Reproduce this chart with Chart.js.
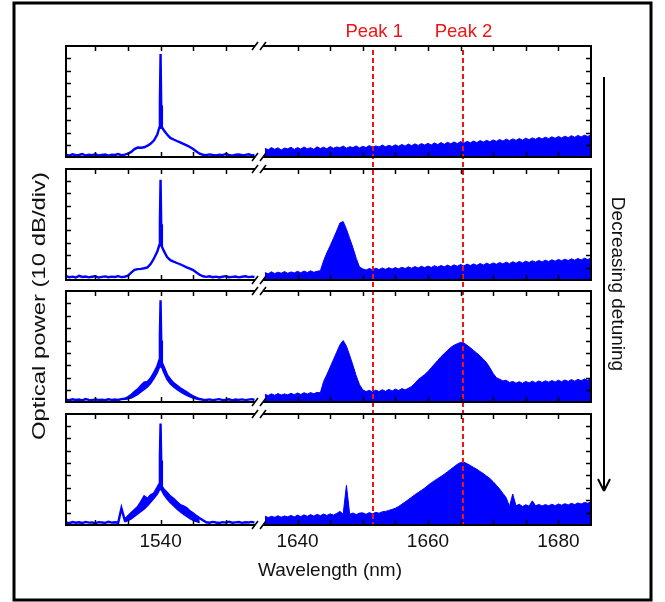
<!DOCTYPE html>
<html>
<head>
<meta charset="utf-8">
<script src="https://cdn.jsdelivr.net/npm/chart.js"></script>
<style>
  html, body { margin: 0; padding: 0; background: #fff; }
  canvas { display: block; }
</style>
</head>
<body>
<canvas id="spectraChart" width="665" height="602"></canvas>
<script>
// Wavelength grids (nm)
const leftWl = [1525.5, 1526, 1526.5, 1527, 1527.5, 1528, 1528.5, 1529, 1529.5, 1530,
    1530.5, 1531, 1531.5, 1532, 1532.5, 1533, 1533.5, 1534, 1534.5,
    1535, 1535.5, 1536, 1536.5, 1537, 1537.5, 1538, 1538.5, 1539, 1539.5,
    1539.8, 1539.9, 1540, 1540.1, 1540.2,
    1540.5, 1541, 1541.5, 1542, 1542.5, 1543, 1543.5, 1544, 1544.5, 1545, 1545.5, 1546, 1546.5,
    1547, 1547.5, 1548, 1548.5, 1549, 1549.5, 1550, 1550.5, 1551, 1551.5, 1552, 1552.5, 1553, 1553.5, 1554, 1554.4];

const bandWl = [1534.5, 1535, 1535.5, 1536, 1536.5, 1537, 1537.5, 1538, 1538.5, 1539, 1539.5,
    1539.8, 1540, 1540.2, 1540.5, 1541, 1541.5, 1542, 1542.5, 1543, 1543.5, 1544, 1544.5, 1545, 1545.5, 1546];

const rightWl = [1635, 1635.5, 1636, 1636.5, 1637, 1637.5, 1638, 1638.5, 1639, 1639.5,
    1640, 1640.5, 1641, 1641.5, 1642, 1642.5, 1643, 1643.5, 1644, 1644.5,
    1645, 1645.5, 1646, 1646.5, 1647, 1647.5, 1648, 1648.5, 1649, 1649.5,
    1650, 1650.5, 1651, 1651.5, 1652, 1652.5, 1653, 1653.5, 1654, 1654.5,
    1655, 1655.5, 1656, 1656.5, 1657, 1657.5, 1658, 1658.5, 1659, 1659.5,
    1660, 1660.5, 1661, 1661.5, 1662, 1662.5, 1663, 1663.5, 1664, 1664.5,
    1665, 1665.5, 1666, 1666.5, 1667, 1667.5, 1668, 1668.5, 1669, 1669.5,
    1670, 1670.5, 1671, 1671.5, 1672, 1672.5, 1673, 1673.5, 1674, 1674.5,
    1675, 1675.5, 1676, 1676.5, 1677, 1677.5, 1678, 1678.5, 1679, 1679.5,
    1680, 1680.5, 1681, 1681.5, 1682, 1682.5, 1683, 1683.5, 1684, 1684.5, 1685];

// Power in divisions (10 dB/div), pump side
const leftP1 = [0.22, 0.15, 0.25, 0.18, 0.2, 0.28, 0.16, 0.22, 0.19, 0.26, 0.17, 0.21, 0.24, 0.15, 0.22, 0.2, 0.27, 0.18, 0.23,
    0.3, 0.45, 0.68, 0.8, 0.78, 0.82, 0.95, 1.12, 1.38, 1.85,
    2.4, 4.5, 8.35, 4.2, 2.45,
    2.2, 1.85, 1.58, 1.45, 1.33, 1.22, 1.1, 0.98, 0.85, 0.68, 0.48, 0.3, 0.22,
    0.18, 0.25, 0.2, 0.16, 0.23, 0.19, 0.27, 0.2, 0.15, 0.22, 0.24, 0.18, 0.21, 0.26, 0.17, 0.2];
const leftP2 = [0.3, 0.22, 0.27, 0.2, 0.33, 0.24, 0.28, 0.21, 0.26, 0.3, 0.2, 0.25, 0.29, 0.22, 0.27, 0.24, 0.31, 0.23, 0.26,
    0.35, 0.6, 0.82, 0.88, 0.9, 0.95, 1.02, 1.3, 1.75, 2.3,
    2.8, 4.8, 8.1, 4.5, 2.7,
    2.35, 1.85, 1.6, 1.48, 1.37, 1.27, 1.15, 1.02, 0.92, 0.8, 0.6, 0.42, 0.3,
    0.25, 0.3, 0.22, 0.27, 0.2, 0.26, 0.31, 0.22, 0.25, 0.28, 0.21, 0.26, 0.3, 0.23, 0.27, 0.24];
const leftP3 = [0.22, 0.18, 0.26, 0.2, 0.24, 0.17, 0.28, 0.21, 0.19, 0.25, 0.2, 0.23, 0.18, 0.26, 0.21, 0.24, 0.2, 0.27, 0.3,
    0.42, 0.6, 0.85, 1.05, 1.35, 1.6, 1.65, 1.95, 2.4, 2.9,
    3.4, 5.5, 8.25, 5.0, 3.2,
    2.85, 2.2, 1.85, 1.55, 1.35, 1.15, 0.98, 0.82, 0.65, 0.5, 0.38, 0.28, 0.22,
    0.2, 0.25, 0.18, 0.23, 0.27, 0.19, 0.22, 0.26, 0.17, 0.24, 0.21, 0.25, 0.19, 0.23, 0.27, 0.2];
const leftP4 = [0.2, 0.15, 0.24, 0.18, 0.22, 0.16, 0.25, 0.19, 0.21, 0.14, 0.23, 0.2, 0.17, 0.26, 0.19, 0.22, 0.18,
    1.35, 0.4,
    0.7, 0.95, 1.2, 1.45, 1.85, 2.3, 2.1, 2.4, 2.55, 3.0,
    3.3, 5.5, 8.2, 5.2, 3.1,
    2.85, 2.6, 2.3, 2.1, 1.85, 1.6, 1.5, 1.35, 1.1, 0.94, 0.72, 0.55, 0.38,
    0.22, 0.18, 0.25, 0.2, 0.16, 0.23, 0.19, 0.26, 0.18, 0.21, 0.24, 0.17, 0.22, 0.2, 0.25, 0.19];

// Lower edge of the noisy pump band (panels 3 and 4)
const bandP3 = [0.25, 0.3, 0.35, 0.5, 0.65, 0.85, 1.05, 1.25, 1.55, 1.95, 2.4,
    2.8, 2.9, 2.8, 2.4, 1.85, 1.5, 1.25, 1.05, 0.88, 0.72, 0.58, 0.45, 0.35, 0.28, 0.22];
const bandP4 = [0.25, 0.35, 0.5, 0.7, 0.9, 1.1, 1.3, 1.55, 1.85, 2.15, 2.5,
    2.8, 2.9, 2.75, 2.45, 2.1, 1.8, 1.55, 1.3, 1.07, 0.88, 0.7, 0.52, 0.38, 0.28, 0.2];

// Power in divisions, long-wavelength side
const rightP1 = [0.74, 0.62, 0.8, 0.66, 0.78, 0.6, 0.76, 0.7, 0.82, 0.65,
    0.8, 0.68, 0.85, 0.7, 0.79, 0.66, 0.86, 0.72, 0.83, 0.7,
    0.88, 0.74, 0.85, 0.78, 0.92, 0.75, 0.87, 0.8, 0.93, 0.77,
    0.9, 0.8, 0.96, 0.82, 0.93, 0.85, 1.0, 0.86, 0.98, 0.88,
    1.02, 0.9, 1.05, 0.92, 1.08, 0.95, 1.1, 0.97, 1.12, 1.0,
    1.14, 1.01, 1.17, 1.04, 1.2, 1.06, 1.22, 1.1, 1.25, 1.12,
    1.28, 1.15, 1.3, 1.18, 1.33, 1.2, 1.36, 1.24, 1.38, 1.26,
    1.42, 1.3, 1.45, 1.32, 1.48, 1.36, 1.5, 1.38, 1.53, 1.4,
    1.56, 1.44, 1.58, 1.47, 1.62, 1.5, 1.64, 1.52, 1.67, 1.55,
    1.7, 1.58, 1.72, 1.6, 1.76, 1.63, 1.78, 1.66, 1.8, 1.7, 1.82];
const rightP2 = [0.6, 0.5, 0.66, 0.52, 0.63, 0.55, 0.68, 0.54, 0.65, 0.57,
    0.7, 0.58, 0.72, 0.6, 0.74, 0.62, 0.7, 0.75, 1.55, 2.2,
    2.75, 3.35, 3.95, 4.6, 4.72, 4.1, 3.35, 2.6, 1.75, 1.05,
    0.9, 0.8, 0.93, 0.82, 0.95, 0.84, 0.97, 0.86, 0.99, 0.88,
    1.0, 0.9, 1.03, 0.92, 1.06, 0.95, 1.08, 0.97, 1.1, 1.0,
    1.12, 1.01, 1.15, 1.04, 1.17, 1.06, 1.2, 1.08, 1.22, 1.11,
    1.25, 1.13, 1.28, 1.16, 1.3, 1.18, 1.33, 1.21, 1.36, 1.24,
    1.38, 1.27, 1.41, 1.3, 1.44, 1.32, 1.47, 1.35, 1.5, 1.38,
    1.52, 1.41, 1.55, 1.44, 1.58, 1.46, 1.6, 1.49, 1.63, 1.52,
    1.66, 1.55, 1.68, 1.57, 1.71, 1.6, 1.73, 1.62, 1.76, 1.65, 1.78];
const rightP3 = [0.66, 0.56, 0.7, 0.58, 0.72, 0.6, 0.69, 0.62, 0.74, 0.63,
    0.77, 0.65, 0.79, 0.68, 0.8, 0.7, 0.82, 0.78, 1.7, 2.25,
    2.85, 3.45, 4.05, 4.65, 5.0, 4.55, 3.8, 3.0, 2.15, 1.45,
    1.02, 0.88, 0.98, 0.85, 1.0, 0.88, 1.03, 0.9, 1.06, 0.93,
    1.08, 0.96, 1.12, 1.02, 1.15, 1.3, 1.55, 1.85, 2.05, 2.25,
    2.5, 2.8, 3.1, 3.4, 3.7, 3.95, 4.2, 4.45, 4.62, 4.75,
    4.85, 4.8, 4.62, 4.42, 4.2, 3.98, 3.75, 3.5, 3.2, 2.8,
    2.35, 2.0, 1.88, 1.74, 1.8, 1.62, 1.7, 1.56, 1.68, 1.55,
    1.7, 1.58, 1.72, 1.6, 1.74, 1.62, 1.75, 1.64, 1.77, 1.66,
    1.8, 1.68, 1.82, 1.7, 1.85, 1.72, 1.87, 1.76, 1.9, 1.8, 1.93];
const rightP4 = [0.72, 0.6, 0.7, 0.62, 0.75, 0.63, 0.73, 0.66, 0.77, 0.65,
    0.8, 0.68, 0.82, 0.7, 0.84, 0.72, 0.86, 0.75, 0.88, 0.77,
    0.9, 0.8, 0.93, 1.1, 0.88, 3.2, 0.86, 0.97, 0.84, 0.96,
    0.98, 0.86, 1.0, 0.9, 1.02, 0.95, 1.07, 1.1, 1.18, 1.26,
    1.35, 1.5, 1.68, 1.86, 2.05, 2.25, 2.45, 2.62, 2.8, 2.98,
    3.2, 3.4, 3.58, 3.75, 3.92, 4.1, 4.3, 4.5, 4.7, 4.9,
    5.05, 5.08, 4.95, 4.8, 4.65, 4.5, 4.32, 4.15, 3.95, 3.75,
    3.5, 3.2, 2.9, 2.55, 2.2, 1.5, 2.5, 1.55, 1.68, 1.5,
    1.64, 1.52, 1.95, 1.55, 1.66, 1.54, 1.65, 1.55, 1.68, 1.56,
    1.7, 1.6, 1.72, 1.62, 1.75, 1.65, 1.78, 1.7, 1.82, 1.76, 1.88];

// Axis ticks and markers
const yTicks = [1, 2, 3, 4, 5, 6, 7, 8];
const leftTicks = [1530, 1535, 1540, 1545, 1550];
const rightTicks = [1640, 1645, 1650, 1655, 1660, 1665, 1670, 1675, 1680];
const leftLabels = [1540];
const rightLabels = [1640, 1660, 1680];
const peakWl = [1651.6, 1665.3];
const peakNames = ['Peak 1', 'Peak 2'];

const BLUE = '#0000ff';
const RED = '#f01414';
const FONT = '"Liberation Sans", Arial, sans-serif';

function pts(xs, ys) {
    return xs.map((x, i) => ({ x: x, y: ys[i] }));
}

const panels = [
    { id: 'p1', left: leftP1, right: rightP1 },
    { id: 'p2', left: leftP2, right: rightP2 },
    { id: 'p3', left: leftP3, right: rightP3, band: bandP3 },
    { id: 'p4', left: leftP4, right: rightP4, band: bandP4 }
];

const datasets = [];
panels.forEach(p => {
    datasets.push({
        data: pts(leftWl, p.left), xAxisID: 'xl', yAxisID: p.id,
        borderColor: BLUE, borderWidth: 2.4, pointRadius: 0, fill: false
    });
    if (p.band) {
        datasets.push({
            data: pts(bandWl, p.band), xAxisID: 'xl', yAxisID: p.id,
            borderColor: BLUE, borderWidth: 1.5, backgroundColor: BLUE, pointRadius: 0, fill: '-1'
        });
    }
    datasets.push({
        data: pts(rightWl, p.right), xAxisID: 'xr', yAxisID: p.id,
        borderColor: BLUE, borderWidth: 1, backgroundColor: BLUE, pointRadius: 0, fill: 'origin'
    });
});

// stacked panels with thin spacer axes between them
const panelAxis = { type: 'linear', position: 'right', stack: 'panels', stackWeight: 111, min: 0, max: 9, display: false };
const gapAxis = { type: 'linear', position: 'right', stack: 'panels', stackWeight: 11, display: false };

function line(ctx, x1, y1, x2, y2) {
    ctx.beginPath();
    ctx.moveTo(x1, y1);
    ctx.lineTo(x2, y2);
    ctx.stroke();
}

const decor = {
    id: 'decor',
    afterDatasetsDraw(chart) {
        const ctx = chart.ctx;
        const area = chart.chartArea;
        const xl = chart.scales.xl, xr = chart.scales.xr;
        const bL = Math.round(xl.getPixelForValue(1554.8)) - 2;
        const bR = Math.round(xr.getPixelForValue(1634.7));
        ctx.save();

        // peak markers
        ctx.strokeStyle = RED;
        ctx.lineWidth = 2;
        ctx.setLineDash([5, 3]);
        peakWl.forEach(w => {
            const x = Math.round(xr.getPixelForValue(w));
            line(ctx, x, chart.scales.p1.top + 4, x, chart.scales.p4.bottom);
        });
        ctx.setLineDash([]);

        // panel frames with broken axis
        ctx.strokeStyle = '#000';
        ctx.lineWidth = 2;
        panels.forEach(p => {
            const s = chart.scales[p.id];
            const top = Math.round(s.top), bot = Math.round(s.bottom);
            [top, bot].forEach(y => {
                line(ctx, area.left, y, bL, y);
                line(ctx, bR, y, area.right, y);
                ctx.lineWidth = 1.5;
                line(ctx, bL - 3, y + 4, bL + 3, y - 4);
                line(ctx, bR - 3, y + 4, bR + 3, y - 4);
                ctx.lineWidth = 2;
            });
            line(ctx, area.left, top - 1, area.left, bot + 1);
            line(ctx, area.right, top - 1, area.right, bot + 1);

            ctx.lineWidth = 1.5;
            yTicks.forEach(v => {
                const y = Math.round(s.getPixelForValue(v)) + 0.5;
                line(ctx, area.left, y, area.left + 5, y);
                line(ctx, area.right - 5, y, area.right, y);
            });
            leftTicks.forEach(w => {
                const x = Math.round(xl.getPixelForValue(w)) + 0.5;
                line(ctx, x, top, x, top + 5);
                line(ctx, x, bot - 5, x, bot);
            });
            rightTicks.forEach(w => {
                const x = Math.round(xr.getPixelForValue(w)) + 0.5;
                line(ctx, x, top, x, top + 5);
                line(ctx, x, bot - 5, x, bot);
            });
            ctx.lineWidth = 2;
        });

        // tick labels and titles
        const bottom = chart.scales.p4.bottom;
        ctx.fillStyle = '#111';
        ctx.font = '19px ' + FONT;
        ctx.textAlign = 'center';
        ctx.textBaseline = 'alphabetic';
        leftLabels.forEach(w => ctx.fillText(String(w), xl.getPixelForValue(w), bottom + 22));
        rightLabels.forEach(w => ctx.fillText(String(w), xr.getPixelForValue(w), bottom + 22));
        ctx.fillText('Wavelength (nm)', 330, bottom + 51);

        ctx.fillStyle = RED;
        ctx.font = '18.5px ' + FONT;
        peakWl.forEach((w, i) => ctx.fillText(peakNames[i], xr.getPixelForValue(w) + 1, 37));

        // y title (stretched along its length as in the original)
        ctx.fillStyle = '#111';
        ctx.font = '19px ' + FONT;
        ctx.save();
        ctx.translate(40, 306);
        ctx.rotate(-Math.PI / 2);
        ctx.textBaseline = 'middle';
        const tw = ctx.measureText('Optical power (10 dB/div)').width;
        ctx.scale(268 / tw, 1);
        ctx.fillText('Optical power (10 dB/div)', 0, 0);
        ctx.restore();

        // detuning arrow
        ctx.lineWidth = 2;
        line(ctx, 604, 77, 604, 490);
        line(ctx, 598, 479, 604, 491);
        line(ctx, 610, 479, 604, 491);
        ctx.save();
        ctx.translate(617, 284);
        ctx.rotate(Math.PI / 2);
        ctx.textBaseline = 'middle';
        ctx.fillText('Decreasing detuning', 0, 0);
        ctx.restore();

        // outer border
        ctx.lineWidth = 3;
        ctx.strokeRect(14, 3, 637, 597);
        ctx.restore();
    }
};

new Chart(document.getElementById('spectraChart').getContext('2d'), {
    type: 'line',
    data: { datasets: datasets },
    options: {
        responsive: false,
        animation: false,
        devicePixelRatio: 1,
        layout: { padding: { left: 66, right: 74, top: 46, bottom: 77 } },
        plugins: { legend: { display: false }, tooltip: { enabled: false } },
        elements: { line: { tension: 0 } },
        scales: {
            xl: { type: 'linear', position: 'bottom', min: 1525.5, max: 1606, display: false },
            xr: { type: 'linear', position: 'bottom', min: 1604.5, max: 1685, display: false },
            p1: panelAxis,
            g1: gapAxis,
            p2: panelAxis,
            g2: gapAxis,
            p3: panelAxis,
            g3: gapAxis,
            p4: panelAxis
        }
    },
    plugins: [decor]
});
</script>
</body>
</html>
